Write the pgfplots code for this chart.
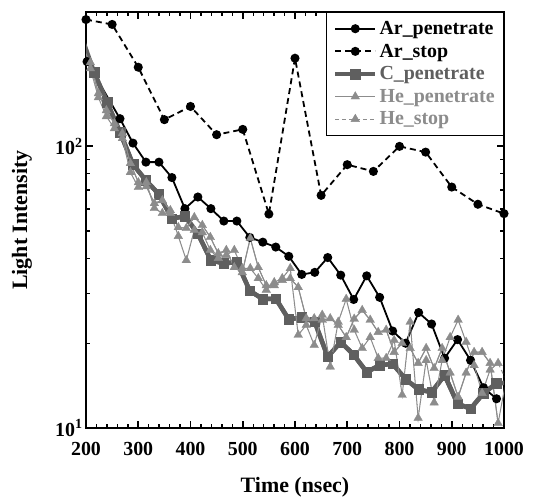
\documentclass[border=0pt]{standalone}
\usepackage{fontspec}
\setmainfont{Liberation Serif}
\usepackage{pgfplots}
\usepackage{pgfplotstable}
\pgfplotsset{compat=1.18}
\definecolor{cgray}{RGB}{95,95,95}
\definecolor{hegray}{RGB}{140,140,140}

\pgfplotstableread{
x y
202 200
265.0 125.4
289.9 102.7
314.7 87.9
339.6 87.9
364.4 77.5
389.3 60.1
414.1 66.1
439.0 60.1
463.8 54.3
488.7 54.3
513.5 47.5
538.4 45.7
563.2 43.9
588.1 40.7
612.9 35.1
637.8 35.7
662.6 40.3
687.5 34.9
712.3 28.6
737.2 34.7
762.0 29.1
786.9 22.1
811.7 20.0
836.6 25.7
861.4 23.4
886.3 17.7
911.1 20.6
936.0 17.4
960.8 13.9
985.7 12.7
}\arpen

\pgfplotstableread{
x y
200 282
250 271
300 191
350 124.4
400 138.6
450 110
500 114.9
550 57.5
600 205.6
650 67.0
700 86.1
750 81.5
800 100
850 95.4
900 71.7
950 62.3
1000 57.7
}\arstop

\pgfplotstableread{
x y
190.5 248
215.3 183.4
240.2 143.6
265.0 112.4
289.9 86.3
314.7 75.7
339.6 67.6
364.4 55.4
389.3 56.5
414.1 49.0
439.0 39.4
463.8 38.4
488.7 38.9
513.5 30.7
538.4 28.7
563.2 28.8
588.1 24.3
612.9 24.7
637.8 23.8
662.6 17.9
687.5 20.2
712.3 18.2
737.2 15.8
762.0 16.7
786.9 16.9
811.7 14.9
836.6 13.7
861.4 13.4
886.3 15.4
911.1 12.2
936.0 11.7
960.8 13.3
985.7 14.4
1010.5 14.5
}\cpen

\pgfplotstableread{
x P S
193.1 225 215
208.4 198.6 189.1
223.7 154.2 149.2
239.0 134.2 127.8
254.3 120.6 115.8
269.6 111.2 106.8
284.9 87.1 80.9
300.2 74.5 71.6
315.5 72.1 74.5
330.8 62.8 60.3
346.1 64.3 57.9
361.4 59.3 57.9
376.7 51.6 48.0
392.0 51.2 39.4
407.3 56.0 50.4
422.6 52.5 49.5
437.9 47.6 42.8
453.2 41.7 40.1
468.5 42.8 41.1
483.8 37.2 42.8
499.1 35.7 36.9
514.4 47.2 36.9
529.7 37.2 34.0
545.0 32.1 30.9
560.3 32.1 32.9
575.6 33.5 34.0
590.9 34.0 36.9
606.2 31.6 21.4
621.5 24.5 23.2
636.8 24.5 19.7
652.1 24.2 25.2
667.4 24.5 16.5
682.7 23.2 23.8
698.0 21.0 28.7
713.3 24.4 22.3
728.6 26.2 19.2
743.9 24.2 21.0
759.2 21.9 17.7
774.5 22.3 17.7
789.8 18.6 20.5
805.1 20.0 13.1
820.4 19.2 23.8
835.7 17.0 10.85
851.0 19.2 17.4
866.3 16.3 12.3
881.6 19.2 17.4
896.9 15.7 21.0
912.2 12.9 24.2
927.5 15.7 20.2
942.8 18.6 16.7
958.1 18.6 13.3
973.4 17.0 16.1
988.7 10.4 17.0
1004.0 14.8 14.8
}\he

\begin{document}
\begin{tikzpicture}
\begin{axis}[
  scale only axis,
  width=418bp, height=416bp,
  ymode=log,
  xmin=200, xmax=1000,
  ymin=10, ymax=300,
  xtick={200,300,...,1000},
  minor x tick num=4,
  ytick={10,100},
  yticklabels={10\textsuperscript{1},10\textsuperscript{2}},
  tick align=inside,
  major tick length=7bp,
  minor tick length=4bp,
  major tick style={line width=1.8bp,black},
  minor tick style={line width=1.4bp,black},
  axis line style={line width=2.5bp},
  /pgf/number format/assume math mode=true,
  /pgf/number format/1000 sep={},
  ticklabel style={font=\fontsize{20}{20}\selectfont\bfseries},
  xticklabel style={yshift=-11bp},
  every axis y label/.style={at={(axis description cs:-0.153,0.5)},rotate=90,anchor=center},
  every axis x label/.style={at={(axis description cs:0.5,-0.142)},anchor=center},
  ylabel={\fontsize{22}{22}\selectfont\bfseries Light Intensity},
  xlabel={\fontsize{22}{22}\selectfont\bfseries Time (nsec)},
  legend style={at={(1,1)},anchor=north east,draw=black,line width=0.8bp,fill=white,
    font=\fontsize{20}{20}\selectfont\bfseries,row sep=4bp,inner xsep=7bp,inner ysep=7bp},
  legend cell align=left,
  legend image code/.code={\draw[mark repeat=2,mark phase=2] plot coordinates {(0bp,0bp)(20bp,0bp)(40bp,0bp)};},
]
\addplot[black,line width=1.8bp,mark=*,mark size=3.6bp,mark options={solid}] table[x=x,y=y] {\arpen};
\addlegendentry{Ar\_penetrate}
\addplot[black,line width=1.8bp,dash pattern=on 6bp off 4bp,mark=*,mark size=3.6bp,mark options={solid}] table[x=x,y=y] {\arstop};
\addlegendentry{Ar\_stop}
\addplot[cgray,line width=4.5bp,forget plot] table[x=x,y=y] {\cpen};
\addplot[cgray,line width=4.5bp,mark=square*,mark size=4.8bp,mark options={solid,line width=0.5bp},restrict x to domain=199:1001] table[x=x,y=y] {\cpen};
\addlegendentry{\textcolor{cgray}{C\_penetrate}}
\addplot[hegray,line width=1bp,forget plot] table[x=x,y=P] {\he};
\addplot[hegray,line width=1bp,mark=triangle*,mark size=5bp,mark options={solid,line width=0.3bp},restrict x to domain=199:1001] table[x=x,y=P] {\he};
\addlegendentry{\textcolor{hegray}{He\_penetrate}}
\addplot[hegray,line width=1bp,dash pattern=on 4bp off 3bp,forget plot] table[x=x,y=S] {\he};
\addplot[hegray,line width=1bp,dash pattern=on 4bp off 3bp,mark=triangle*,mark size=5bp,mark options={solid,line width=0.3bp},restrict x to domain=199:1001] table[x=x,y=S] {\he};
\addlegendentry{\textcolor{hegray}{He\_stop}}
\end{axis}
\pgfresetboundingbox
\path ([xshift=-86bp,yshift=-73bp]current axis.south west) rectangle ([xshift=29bp,yshift=12bp]current axis.north east);
\end{tikzpicture}
\end{document}
